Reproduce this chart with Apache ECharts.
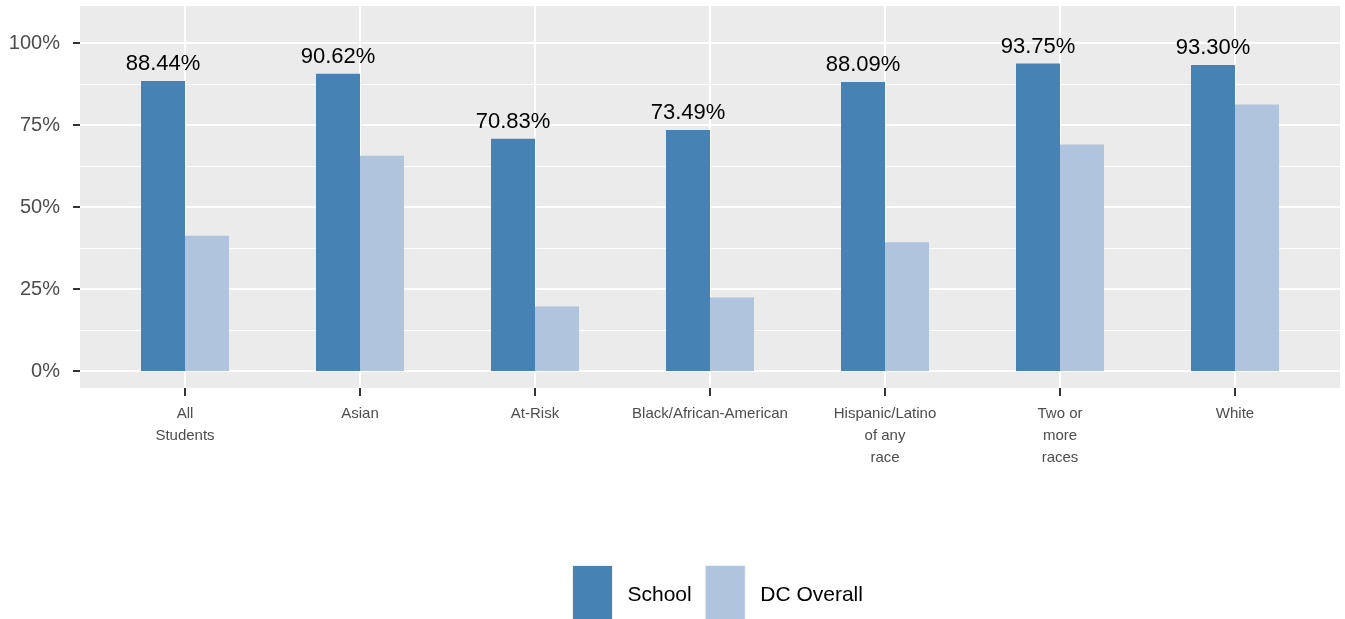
<!DOCTYPE html>
<html>
<head>
<meta charset="utf-8">
<script src="https://cdn.jsdelivr.net/npm/echarts@6/dist/echarts.min.js"></script>
<style>
html,body{margin:0;padding:0;background:#fff;}
#chart{width:1345px;height:619px;}
</style>
</head>
<body>
<div id="chart"></div>
<script>
const categories = ["All\nStudents", "Asian", "At-Risk", "Black/African-American", "Hispanic/Latino\nof any\nrace", "Two or\nmore\nraces", "White"];
const schoolValues = [88.44, 90.62, 70.83, 73.49, 88.09, 93.75, 93.30];
const dcValues = [41.25, 65.6, 19.7, 22.4, 39.3, 69.1, 81.3];
const yTicks = [0, 25, 50, 75, 100];
const yMinorTicks = [12.5, 37.5, 62.5, 87.5];
const seriesNames = ["School", "DC Overall"];

const FONT = "'Liberation Sans', Arial, Helvetica, sans-serif";
const xIdx = categories.map((c, i) => i);

const chart = echarts.init(document.getElementById('chart'), null, {renderer: 'canvas'});
chart.setOption({
  animation: false,
  backgroundColor: '#ffffff',
  grid: {left: 80, right: 5, top: 6, bottom: 231, show: true, backgroundColor: '#EBEBEB', borderWidth: 0,
    containLabel: false, outerBoundsMode: 'none'},
  legend: {
    left: 572, top: 565, padding: 0,
    itemWidth: 40, itemHeight: 60, itemGap: 13, icon: 'rect',
    data: seriesNames,
    textStyle: {fontFamily: FONT, fontSize: 21, color: '#000', padding: [0, 0, 0, 10]},
    itemStyle: {borderColor: '#f2f2f2', borderWidth: 1}
  },
  xAxis: [{
    type: 'value', min: -0.6, max: 6.6,
    axisLine: {show: false, onZero: false},
    axisTick: {show: true, length: 8, lineStyle: {color: '#333', width: 2}, customValues: xIdx},
    axisLabel: {customValues: xIdx, formatter: v => categories[Math.round(v)], margin: 15,
      fontFamily: FONT, fontSize: 15, color: '#4d4d4d', lineHeight: 22, align: 'center'},
    splitLine: {show: true, lineStyle: {color: '#ffffff', width: 2}}
  }],
  yAxis: [{
    type: 'value', min: -5.18, max: 111.3,
    axisLine: {show: false, onZero: false},
    axisTick: {show: true, length: 7, lineStyle: {color: '#333', width: 2}, customValues: yTicks},
    axisLabel: {customValues: yTicks, formatter: v => v + '%', margin: 20,
      fontFamily: FONT, fontSize: 20, color: '#4d4d4d'},
    splitLine: {show: true, lineStyle: {color: '#ffffff', width: 2}}
  }, {
    type: 'value', min: -5.18, max: 111.3, position: 'left',
    axisLine: {show: false, onZero: false},
    axisTick: {show: false, customValues: yMinorTicks},
    axisLabel: {show: false, customValues: yMinorTicks},
    splitLine: {show: true, lineStyle: {color: '#ffffff', width: 1}}
  }],
  series: [{
    name: seriesNames[0], type: 'bar', barWidth: 44, barGap: '0%',
    itemStyle: {color: '#4682B4'},
    data: schoolValues.map((v, i) => [i, v]),
    label: {show: true, position: 'top', distance: 6, fontFamily: FONT, fontSize: 22, color: '#000',
      formatter: p => p.value[1].toFixed(2) + '%'}
  }, {
    name: seriesNames[1], type: 'bar', barWidth: 44, barGap: '0%',
    itemStyle: {color: '#B0C4DE'},
    data: dcValues.map((v, i) => [i, v])
  }]
});
</script>
</body>
</html>
